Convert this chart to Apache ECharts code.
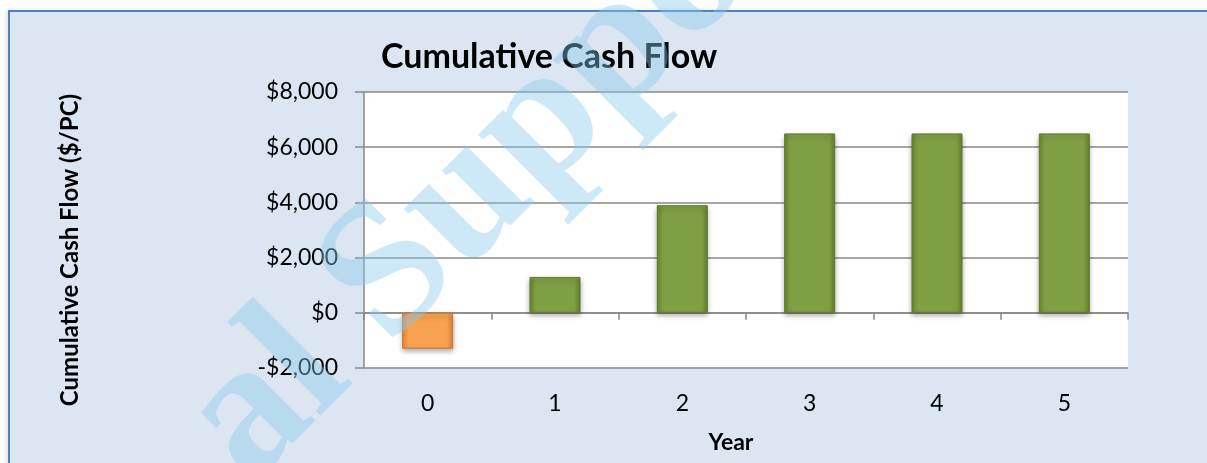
<!DOCTYPE html>
<html>
<head>
<meta charset="utf-8">
<script src="https://cdn.jsdelivr.net/npm/echarts@6/dist/echarts.min.js"></script>
<style>
  html, body { margin: 0; padding: 0; background: #ffffff; }
  #wrap { position: relative; width: 1207px; height: 463px; overflow: hidden; }
  #frame { position: absolute; left: 8px; top: 10px; width: 1300px; height: 500px;
           background: #dce6f2; border: 2px solid #4f81bd; box-sizing: border-box;
           box-shadow: -2px 0 4px rgba(0,0,0,0.12); }
  #chart { position: absolute; left: 0; top: 0; width: 1207px; height: 463px; }
</style>
</head>
<body>
<div id="wrap">
  <div id="frame"></div>
  <div id="chart"></div>
</div>
<script>
const years = ['0', '1', '2', '3', '4', '5'];
const cumulativeCashFlow = [-1300, 1300, 3900, 6500, 6500, 6500];
const yTicks = { min: -2000, max: 8000, interval: 2000 };
const titleText = 'Cumulative Cash Flow';
const yName = 'Cumulative Cash Flow ($/PC)';
const xName = 'Year';
const watermarkText = 'al Support';

function money(v) {
  const s = '$' + Math.abs(v).toLocaleString('en-US');
  return v < 0 ? '-' + s : s;
}

const green = new echarts.graphic.LinearGradient(0, 0, 1, 0, [
  { offset: 0, color: '#6b8833' }, { offset: 0.12, color: '#7f9f44' },
  { offset: 0.88, color: '#7f9f44' }, { offset: 1, color: '#66822f' }
]);
const orange = new echarts.graphic.LinearGradient(0, 0, 1, 0, [
  { offset: 0, color: '#e88a3c' }, { offset: 0.12, color: '#f9a24f' },
  { offset: 0.88, color: '#f9a24f' }, { offset: 1, color: '#e0823a' }
]);

const barData = cumulativeCashFlow.map(v => ({
  value: v,
  itemStyle: v < 0
    ? { color: orange, borderColor: '#c9773a' }
    : { color: green, borderColor: '#5f7a2c' }
}));

const chart = echarts.init(document.getElementById('chart'), null, { renderer: 'canvas' });
const gray = '#888888';
chart.setOption({
  backgroundColor: 'transparent',
  animation: false,
  title: {
    text: titleText, left: 376, top: 35,
    textStyle: { fontFamily: 'Lato', fontWeight: 'bold', fontSize: 34, color: '#000' }
  },
  grid: { left: 364, right: 79, top: 92, bottom: 95, show: true, backgroundColor: '#ffffff', borderWidth: 0 },
  xAxis: [
    {
      type: 'category', data: years, position: 'bottom',
      axisLine: { show: false, onZero: false }, axisTick: { show: false },
      axisLabel: { margin: 24, fontFamily: 'Lato', fontSize: 23, color: '#000' },
      name: xName, nameLocation: 'middle', nameGap: 63,
      nameTextStyle: { fontFamily: 'Lato', fontWeight: 'bold', fontSize: 23, color: '#000', padding: [0, 30, 0, 0] }
    },
    {
      type: 'category', data: years, position: 'bottom',
      axisLine: { show: true, onZero: true, lineStyle: { color: gray, width: 1.5 } },
      axisTick: { show: true, length: 7, lineStyle: { color: gray, width: 1.5 } },
      axisLabel: { show: false }
    }
  ],
  yAxis: {
    type: 'value', min: yTicks.min, max: yTicks.max, interval: yTicks.interval,
    axisLine: { show: true, lineStyle: { color: gray, width: 1.5 } },
    axisTick: { show: true, length: 9, lineStyle: { color: gray, width: 1.5 } },
    splitLine: { show: true, lineStyle: { color: gray, width: 1.5 } },
    axisLabel: { formatter: money, margin: 26, fontFamily: 'Lato', fontSize: 23, color: '#000' }
  },
  series: [{
    type: 'bar', xAxisIndex: 1, data: barData, barWidth: 51,
    itemStyle: {
      borderWidth: 1,
      shadowBlur: 5, shadowOffsetY: 3, shadowColor: 'rgba(0,0,0,0.35)'
    },
    z: 3
  }],
  graphic: [
    {
      type: 'text', x: 70, y: 250, rotation: Math.PI / 2,
      style: { text: yName, fontFamily: 'Lato', fontWeight: 'bold', fontSize: 24, fill: '#000',
               align: 'center', verticalAlign: 'middle' }
    },
    {
      type: 'text', x: 283, y: 518, rotation: Math.PI / 4, z: 100, silent: true,
      style: { text: watermarkText, fontFamily: 'Liberation Serif', fontWeight: 'bold', fontSize: 190,
               fill: 'rgba(135,200,235,0.42)', align: 'left', verticalAlign: 'bottom' }
    }
  ]
});
</script>
</body>
</html>
